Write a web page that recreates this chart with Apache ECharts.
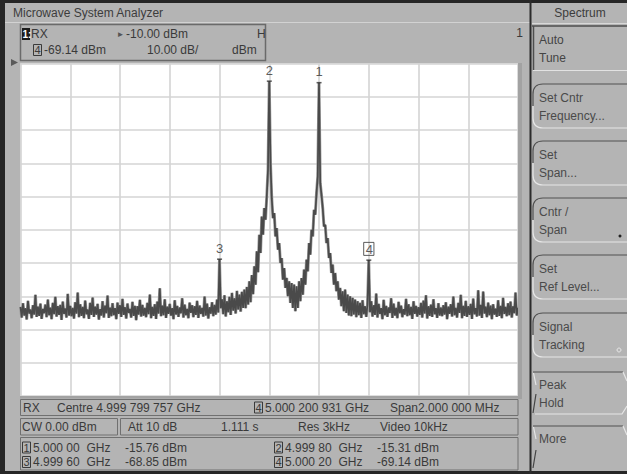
<!DOCTYPE html>
<html>
<head>
<meta charset="utf-8">
<title>Microwave System Analyzer</title>
<script src="https://cdn.jsdelivr.net/npm/echarts/dist/echarts.min.js"></script>
<style>
  html, body { margin: 0; padding: 0; background: #b4b4b4; }
  #chart { width: 627px; height: 474px; }
</style>
</head>
<body>
<div id="chart"></div>
<script>
// ---------------- data ----------------
const CENTRE_GHZ = 4.999799757;
const SPAN_MHZ = 2.0;
const REF_LEVEL_DBM = -10;
const DB_PER_DIV = 10;
const SWEEP_START_KHZ = -1000;   // relative to centre
const SWEEP_STEP_KHZ = 5;

// trace levels (dBm), one per sweep point
const traceDbm = [
  -83.2,-86.4,-82.1,-85.8,-83.6,-87.0,-81.4,-85.2,-84.0,-86.6,-82.7,-85.5,-79.6,-86.2,-83.1,-85.9,-82.2,-86.8,-83.8,-85.1,
  -82.5,-86.3,-81.0,-85.7,-83.4,-86.9,-82.0,-85.4,-80.2,-86.1,-83.0,-85.6,-82.6,-87.1,-81.6,-85.3,-83.7,-86.4,-79.3,-85.8,
  -82.9,-86.0,-83.5,-86.7,-81.8,-85.2,-78.9,-86.3,-82.4,-85.9,-83.2,-86.6,-81.3,-85.4,-84.0,-86.8,-82.0,-85.6,-80.4,-86.2,
  -83.1,-85.5,-82.3,-87.0,-83.9,-85.8,-81.5,-86.4,-82.8,-85.1,-79.8,-86.5,-83.4,-86.0,-82.1,-85.7,-83.6,-86.9,-81.9,-85.3,
  -82.7,-86.2,-80.8,-85.6,-83.3,-86.7,-82.2,-85.0,-83.8,-86.4,-81.7,-85.9,-82.9,-87.2,-83.0,-85.5,-81.1,-86.1,-82.6,-85.8,
  -83.5,-86.3,-82.0,-85.4,-79.5,-86.6,-83.2,-85.9,-82.4,-86.8,-81.6,-85.2,-77.6,-86.0,-82.8,-85.7,-80.9,-86.5,-83.1,-85.3,
  -82.3,-85.8,-83.6,-86.9,-81.2,-85.5,-82.9,-86.2,-83.4,-85.1,-80.6,-86.4,-82.5,-85.7,-83.8,-86.6,-81.9,-85.0,-82.7,-86.3,
  -83.0,-85.6,-81.4,-86.5,-82.8,-85.3,-83.5,-86.1,-80.1,-85.8,-82.2,-86.7,-83.3,-85.2,-81.8,-86.0,-82.6,-85.5,-81.0,-84.9,
  -68.85,-83.6,-80.9,-85.4,-79.7,-86.1,-81.5,-84.8,-80.2,-85.6,-79.0,-84.3,-80.6,-85.2,-78.4,-84.0,-79.5,-84.6,-78.7,-83.5,
  -78.0,-83.6,-77.2,-82.5,-75.5,-81.8,-73.6,-79.4,-71.0,-76.5,-66.5,-72.8,-61.5,-67.0,-56.0,-61.5,-53.5,-57.0,-50.0,-42.0,
  -15.31,-40.0,-50.5,-56.5,-55.0,-62.0,-59.5,-66.0,-64.0,-70.0,-68.5,-75.0,-71.5,-77.5,-74.5,-80.0,-75.5,-82.0,-76.0,-83.5,
  -76.5,-84.5,-77.0,-83.5,-75.5,-81.5,-74.5,-79.5,-72.0,-76.5,-69.0,-72.5,-64.0,-67.5,-60.0,-62.0,-54.0,-55.5,-49.0,-44.0,
  -15.76,-46.0,-49.5,-53.5,-59.0,-58.5,-64.0,-62.5,-68.5,-67.0,-73.0,-70.5,-76.5,-73.0,-78.5,-75.5,-81.0,-77.5,-83.0,-78.5,
  -84.5,-78.0,-85.0,-79.5,-85.8,-80.0,-86.0,-80.5,-85.5,-81.0,-86.3,-81.5,-85.7,-82.0,-86.5,-81.2,-85.4,-83.0,-86.2,-82.4,
  -69.14,-84.8,-81.5,-86.1,-82.7,-85.6,-79.2,-86.4,-82.3,-85.3,-83.6,-86.9,-81.1,-85.7,-82.9,-86.2,-83.4,-85.0,-80.6,-86.5,
  -82.2,-85.8,-83.5,-86.6,-81.7,-85.1,-82.8,-86.3,-83.9,-85.5,-80.8,-86.0,-82.4,-85.7,-83.2,-86.8,-81.5,-85.3,-82.9,-86.1,
  -83.3,-85.6,-82.0,-86.4,-81.3,-85.2,-79.7,-86.7,-83.0,-85.9,-82.5,-86.2,-80.9,-85.4,-83.6,-86.5,-82.1,-85.8,-83.4,-86.0,
  -82.7,-85.5,-81.8,-86.9,-83.1,-85.3,-82.4,-86.1,-80.1,-85.7,-83.5,-86.4,-82.0,-85.0,-79.6,-86.6,-82.9,-85.9,-81.4,-86.2,
  -83.0,-85.6,-82.3,-86.8,-80.7,-85.4,-83.6,-86.1,-78.2,-85.8,-82.6,-86.5,-78.6,-85.2,-83.1,-86.3,-81.9,-85.7,-82.8,-86.9,
  -82.4,-85.5,-83.7,-86.2,-81.2,-85.9,-82.9,-86.6,-80.5,-85.3,-83.2,-86.0,-82.1,-85.7,-81.6,-86.4,-83.0,-85.1,-78.9,-85.8,
  -83.4
];

// markers
const markerIds = ['1', '2', '3', '4'];
const markerFreqGHz = [5.00000, 4.99980, 4.99960, 5.00020];
const markerLevelDbm = [-15.76, -15.31, -68.85, -69.14];
const activeMarker = '4';
const activeMarkerFreqGHz = 5.000200931;

// soft keys
const softKeysRound = [['Set Cntr', 'Frequency...'], ['Set', 'Span...'], ['Cntr /', 'Span'], ['Set', 'Ref Level...'], ['Signal', 'Tracking']];
const softKeysRoundTop = [84, 141, 198, 255, 313];

// ---------------- helpers ----------------
const FONT = '"Liberation Sans", Arial, sans-serif';
const TXT = '#3a3a3a';
function T(x, y, text, o) {
  o = o || {};
  const al = o.align || 'left';
  return { type: 'text', x: x, y: y, silent: true, z: o.z || 20,
    style: { text: text, fill: o.color || TXT, font: (o.weight || 'normal') + ' ' + (o.size || 12) + 'px ' + FONT,
      align: al, textAlign: al, verticalAlign: 'middle', textVerticalAlign: 'middle' } };
}
function R(x, y, w, h, o) {
  o = o || {};
  return { type: 'rect', silent: true, z: o.z || 10, shape: { x: x, y: y, width: w, height: h },
    style: { fill: o.fill || 'none', stroke: o.stroke || 'none', lineWidth: o.lw || 1 } };
}
function L(x1, y1, x2, y2, c, lw) {
  return { type: 'line', silent: true, z: 12, shape: { x1: x1, y1: y1, x2: x2, y2: y2 }, style: { stroke: c, lineWidth: lw || 1 } };
}
function PL(points, c, lw) {
  return { type: 'polyline', silent: true, z: 12, shape: { points: points }, style: { stroke: c, lineWidth: lw || 1, fill: 'none' } };
}
function BZ(x1, y1, cx, cy, x2, y2, c, lw) {
  return { type: 'bezierCurve', silent: true, z: 12, shape: { x1: x1, y1: y1, x2: x2, y2: y2, cpx1: cx, cpy1: cy },
    style: { stroke: c, lineWidth: lw || 1, fill: 'none' } };
}
function fmtGHz(f) { const s = f.toFixed(5); return s.slice(0, 5) + ' ' + s.slice(5); }
function fmtGHz9(f) { const s = f.toFixed(9); return s.slice(0, 5) + ' ' + s.slice(5, 8) + ' ' + s.slice(8); }
function fmtDbm(v) { return v.toFixed(2) + ' dBm'; }
function boxedNum(x, y, n) { return [R(x + 0.5, y - 5.5, 8, 11, { stroke: '#3a3a3a', lw: 1 }), T(x + 4.5, y, n, { align: 'center', size: 11 })]; }

// ---------------- series data ----------------
const tracePoints = traceDbm.map((v, i) => [SWEEP_START_KHZ + i * SWEEP_STEP_KHZ, v]);
const halfSpanKHz = SPAN_MHZ * 1000 / 2;
const markerPoints = markerIds.map((id, i) => {
  const item = { value: [(markerFreqGHz[i] - CENTRE_GHZ) * 1e6, markerLevelDbm[i]], name: id };
  if (id === activeMarker) {
    item.label = { borderColor: '#333', borderWidth: 1, padding: [1, 1, 0, 2] };
  }
  return item;
});

// ---------------- chrome ----------------
const G = [];
// outer dark frame
G.push(R(0, 0, 627, 3, { fill: '#262626' }));
G.push(R(0, 0, 5, 474, { fill: '#262626' }));
G.push(R(0, 471, 627, 3, { fill: '#262626' }));
// title bar
G.push(T(13, 12.5, 'Microwave System Analyzer', { color: '#3c3c3c' }));
G.push(L(5, 22.5, 530, 22.5, '#d2d2d2', 1));
// header box
G.push(R(20.5, 24.5, 245, 36, { stroke: '#6a6a6a', lw: 1.5 }));
G.push(R(22, 28, 8, 12, { fill: '#1c1c1c' }));
G.push(T(22.5, 34, '1:', { color: '#ffffff', size: 10, weight: 'bold' }));
G.push(T(31, 34, 'RX'));
G.push(T(116.5, 34, '\u25BA', { size: 8, color: '#555' }));
G.push(T(126, 34, fmtDbm(REF_LEVEL_DBM)));
G.push(T(257, 34, 'H'));
G.push(...boxedNum(33, 50, activeMarker));
G.push(T(44, 50, fmtDbm(markerLevelDbm[markerIds.indexOf(activeMarker)])));
G.push(T(147, 50, DB_PER_DIV.toFixed(2) + ' dB/'));
G.push(T(232, 50, 'dBm'));
G.push(T(523, 33, '1', { align: 'right' }));
// reference level pointer
G.push({ type: 'polygon', silent: true, z: 12, shape: { points: [[11, 59], [18, 62.5], [11, 66]] }, style: { fill: '#5a5a5a' } });
// plot frame edges
G.push(R(518, 63, 4, 336, { fill: '#a2a2a2' }));
G.push(R(20, 396, 502, 2.5, { fill: '#a2a2a2' }));

// bottom panels
G.push(R(20.5, 399.5, 497.5, 16, { stroke: '#707070' }));
G.push(T(23, 407.5, 'RX'));
G.push(T(57, 407.5, 'Centre ' + fmtGHz9(CENTRE_GHZ) + ' GHz'));
G.push(...boxedNum(254, 407.5, activeMarker));
G.push(T(265, 407.5, fmtGHz9(activeMarkerFreqGHz) + ' GHz'));
G.push(T(390, 407.5, 'Span' + SPAN_MHZ.toFixed(6).replace(/(\.\d{3})/, '$1 ') + ' MHz'));

G.push(R(20.5, 418.5, 97, 16.5, { stroke: '#707070' }));
G.push(R(120.5, 418.5, 397.5, 16.5, { stroke: '#707070' }));
G.push(T(22, 427, 'CW 0.00 dBm'));
G.push(T(128, 427, 'Att 10 dB'));
G.push(T(221, 427, '1.111 s'));
G.push(T(298, 427, 'Res 3kHz'));
G.push(T(380, 427, 'Video 10kHz'));

G.push(R(20.5, 437.5, 497.5, 32.5, { stroke: '#707070' }));
const mPos = [[22, 447.5], [274, 447.5], [22, 462], [274, 462]];
markerIds.forEach((id, i) => {
  const p = mPos[i];
  G.push(...boxedNum(p[0], p[1], id));
  G.push(T(p[0] + 11, p[1], fmtGHz(markerFreqGHz[i]) + '  GHz'));
  G.push(T(p[0] + 103, p[1], fmtDbm(markerLevelDbm[i])));
});

// right soft-key panel
G.push(L(530.5, 0, 530.5, 474, '#2b2b2b', 2));
G.push(T(580, 13, 'Spectrum', { align: 'center', color: '#3c3c3c' }));
G.push(L(532, 23.5, 627, 23.5, '#d8d8d8', 1));
G.push(L(532, 26, 627, 26, '#4e4e4e', 1.5));
G.push(L(533.5, 26, 533.5, 70, '#4e4e4e', 1.5));
G.push(L(533, 70.5, 627, 70.5, '#e2e2e2', 1));
G.push(T(539, 39.5, 'Auto', { color: '#444' }));
G.push(T(539, 57.5, 'Tune', { color: '#444' }));

softKeysRound.forEach((k, i) => {
  const t = softKeysRoundTop[i], b = t + 44, m = t + 22;
  G.push(L(543, t, 627, t, '#505050', 1.2));
  G.push(BZ(543, t, 533, t, 533, t + 10, '#505050', 1.2));
  G.push(L(533, t + 10, 533, m, '#505050', 1.2));
  G.push(L(533, m, 533, b - 10, '#e6e6e6', 1.2));
  G.push(BZ(533, b - 10, 533, b, 543, b, '#e6e6e6', 1.2));
  G.push(L(543, b, 627, b, '#e6e6e6', 1.2));
  G.push(T(539, t + 14, k[0], { color: '#4a4a4a' }));
  G.push(T(539, t + 32, k[1], { color: '#4a4a4a' }));
});
G.push({ type: 'circle', silent: true, z: 12, shape: { cx: 620, cy: 236, r: 1.5 }, style: { fill: '#222' } });
G.push({ type: 'circle', silent: true, z: 12, shape: { cx: 619, cy: 350, r: 2 }, style: { fill: 'none', stroke: '#e6e6e6', lineWidth: 1 } });

// Peak Hold key
G.push(L(533, 372, 623, 372, '#505050', 1.2));
G.push(L(623, 372, 627, 381, '#e6e6e6', 1.2));
G.push(L(533.5, 373, 536, 385, '#e6e6e6', 1.2));
G.push(PL([[535, 414], [622, 414], [627, 406]], '#e6e6e6', 1.2));
G.push(L(533, 413, 536, 394, '#444', 1.2));
G.push(T(539, 385, 'Peak', { color: '#4a4a4a' }));
G.push(T(539, 403, 'Hold', { color: '#4a4a4a' }));
// More key
G.push(L(533, 426, 623, 426, '#505050', 1.2));
G.push(L(623, 426, 627, 435, '#e6e6e6', 1.2));
G.push(L(533.5, 427, 536, 439, '#e6e6e6', 1.2));
G.push(L(533, 468, 536, 450, '#444', 1.2));
G.push(T(539, 439, 'More', { color: '#4a4a4a' }));

// ---------------- chart ----------------
const chart = echarts.init(document.getElementById('chart'), null, { renderer: 'svg', width: 627, height: 474 });
chart.setOption({
  animation: false,
  backgroundColor: '#b4b4b4',
  grid: { left: 20.5, top: 63.5, width: 497.5, height: 332.5, show: true, backgroundColor: '#ffffff', borderWidth: 0 },
  xAxis: {
    type: 'value', min: -halfSpanKHz, max: halfSpanKHz, interval: 200,
    axisLine: { show: false }, axisTick: { show: false }, axisLabel: { show: false },
    splitLine: { show: true, lineStyle: { color: '#d4d4d4', width: 1.6 } }
  },
  yAxis: {
    type: 'value', min: REF_LEVEL_DBM - 10 * DB_PER_DIV, max: REF_LEVEL_DBM, interval: DB_PER_DIV,
    axisLine: { show: false }, axisTick: { show: false }, axisLabel: { show: false },
    splitLine: { show: true, lineStyle: { color: '#d4d4d4', width: 1.6 } }
  },
  series: [
    {
      // soft halo of the trace
      type: 'line', data: tracePoints, showSymbol: false, symbol: 'none',
      lineStyle: { color: '#9a9a9a', width: 3 }, z: 2, silent: true
    },
    {
      type: 'line', data: tracePoints, showSymbol: false, symbol: 'none',
      lineStyle: { color: '#4a4a4a', width: 1.7 }, z: 3, silent: true
    },
    {
      type: 'scatter', data: markerPoints, symbol: 'rect', symbolSize: [5, 1.5], z: 4, silent: true,
      itemStyle: { color: '#333' },
      label: { show: true, position: 'top', distance: 4, formatter: p => p.name,
        color: '#333', fontSize: 13, fontFamily: FONT, lineHeight: 12 }
    }
  ],
  graphic: { elements: G }
});
</script>
</body>
</html>
